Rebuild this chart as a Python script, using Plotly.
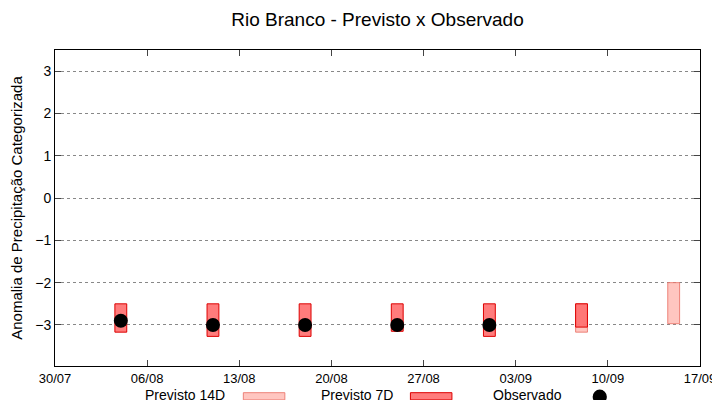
import plotly.graph_objects as go

dates7 = ["2024-08-04", "2024-08-11", "2024-08-18", "2024-08-25", "2024-09-01", "2024-09-08"]
top7 = [-2.5, -2.5, -2.5, -2.5, -2.5, -2.5]
bot7 = [-3.17, -3.27, -3.27, -3.15, -3.27, -3.05]
dates14 = ["2024-09-08", "2024-09-15"]
top14 = [-2.5, -2.0]
bot14 = [-3.17, -2.97]
obs_dates = ["2024-08-04", "2024-08-11", "2024-08-18", "2024-08-25", "2024-09-01"]
obs_vals = [-2.9, -3.0, -3.0, -3.0, -3.0]
tick_dates = ["2024-07-30", "2024-08-06", "2024-08-13", "2024-08-20", "2024-08-27", "2024-09-03", "2024-09-10", "2024-09-17"]
tick_labels = ["30/07", "06/08", "13/08", "20/08", "27/08", "03/09", "10/09", "17/09"]

W = 0.9 * 86400000
fig = go.Figure()
fig.add_bar(x=dates14, y=[t - b for t, b in zip(top14, bot14)], base=bot14, width=W,
            marker=dict(color="rgba(255,160,150,0.6)", line=dict(color="rgba(235,120,110,0.9)", width=1)),
            showlegend=False)
fig.add_bar(x=dates7, y=[t - b for t, b in zip(top7, bot7)], base=bot7, width=W,
            marker=dict(color="rgba(255,110,110,0.9)", line=dict(color="#dd0000", width=1)),
            showlegend=False)
fig.add_scatter(x=obs_dates, y=obs_vals, mode="markers",
                marker=dict(color="black", size=14), showlegend=False)
fig.update_layout(
    barmode="overlay", width=712, height=392, plot_bgcolor="white", paper_bgcolor="white",
    font=dict(family="Liberation Sans", size=14, color="black"),
    margin=dict(l=47, r=20, t=42, b=34, autoexpand=False),
    title=dict(text="Rio Branco - Previsto x Observado", x=0.5, xref="paper", y=1 - 11 / 392,
               yref="container", xanchor="center", yanchor="middle", font=dict(size=19)),
)
fig.update_xaxes(range=["2024-07-30", "2024-09-17"], tickvals=tick_dates, ticktext=tick_labels,
                 ticks="inside", ticklen=6, mirror="ticks", showline=True, linecolor="black",
                 showgrid=False, tickfont=dict(size=13), automargin=False)
fig.update_yaxes(range=[-3.97, 3.5], tickvals=[-3, -2, -1, 0, 1, 2, 3], ticks="inside", ticklen=6,
                 mirror="ticks", showline=True, linecolor="black", showgrid=True, gridcolor="#888",
                 griddash="dot", zeroline=False, tickfont=dict(size=14), automargin=False,
                 title=dict(text="Anomalia de Precipitação Categorizada", font=dict(size=15), standoff=8))
def px(x): return (x - 55) / 637
def py(y): return (358 - y) / 308
for txt, xp in [("Previsto 14D", 142), ("Previsto 7D", 316), ("Observado", 486)]:
    fig.add_annotation(text=txt, xref="paper", yref="paper", x=px(xp), y=py(386),
                       xanchor="left", yanchor="middle", showarrow=False, font=dict(size=14))
fig.add_shape(type="rect", xref="paper", yref="paper", x0=px(241), x1=px(282), y0=py(384), y1=py(391),
              fillcolor="rgba(255,160,150,0.6)", line=dict(color="rgba(235,120,110,0.9)", width=1))
fig.add_shape(type="rect", xref="paper", yref="paper", x0=px(406), x1=px(447), y0=py(384), y1=py(391),
              fillcolor="rgba(255,110,110,0.9)", line=dict(color="#dd0000", width=1))
fig.add_shape(type="circle", xref="paper", yref="paper", x0=px(586), x1=px(600), y0=py(381), y1=py(395),
              fillcolor="black", line=dict(color="black", width=0))
fig.write_html("out.html")
